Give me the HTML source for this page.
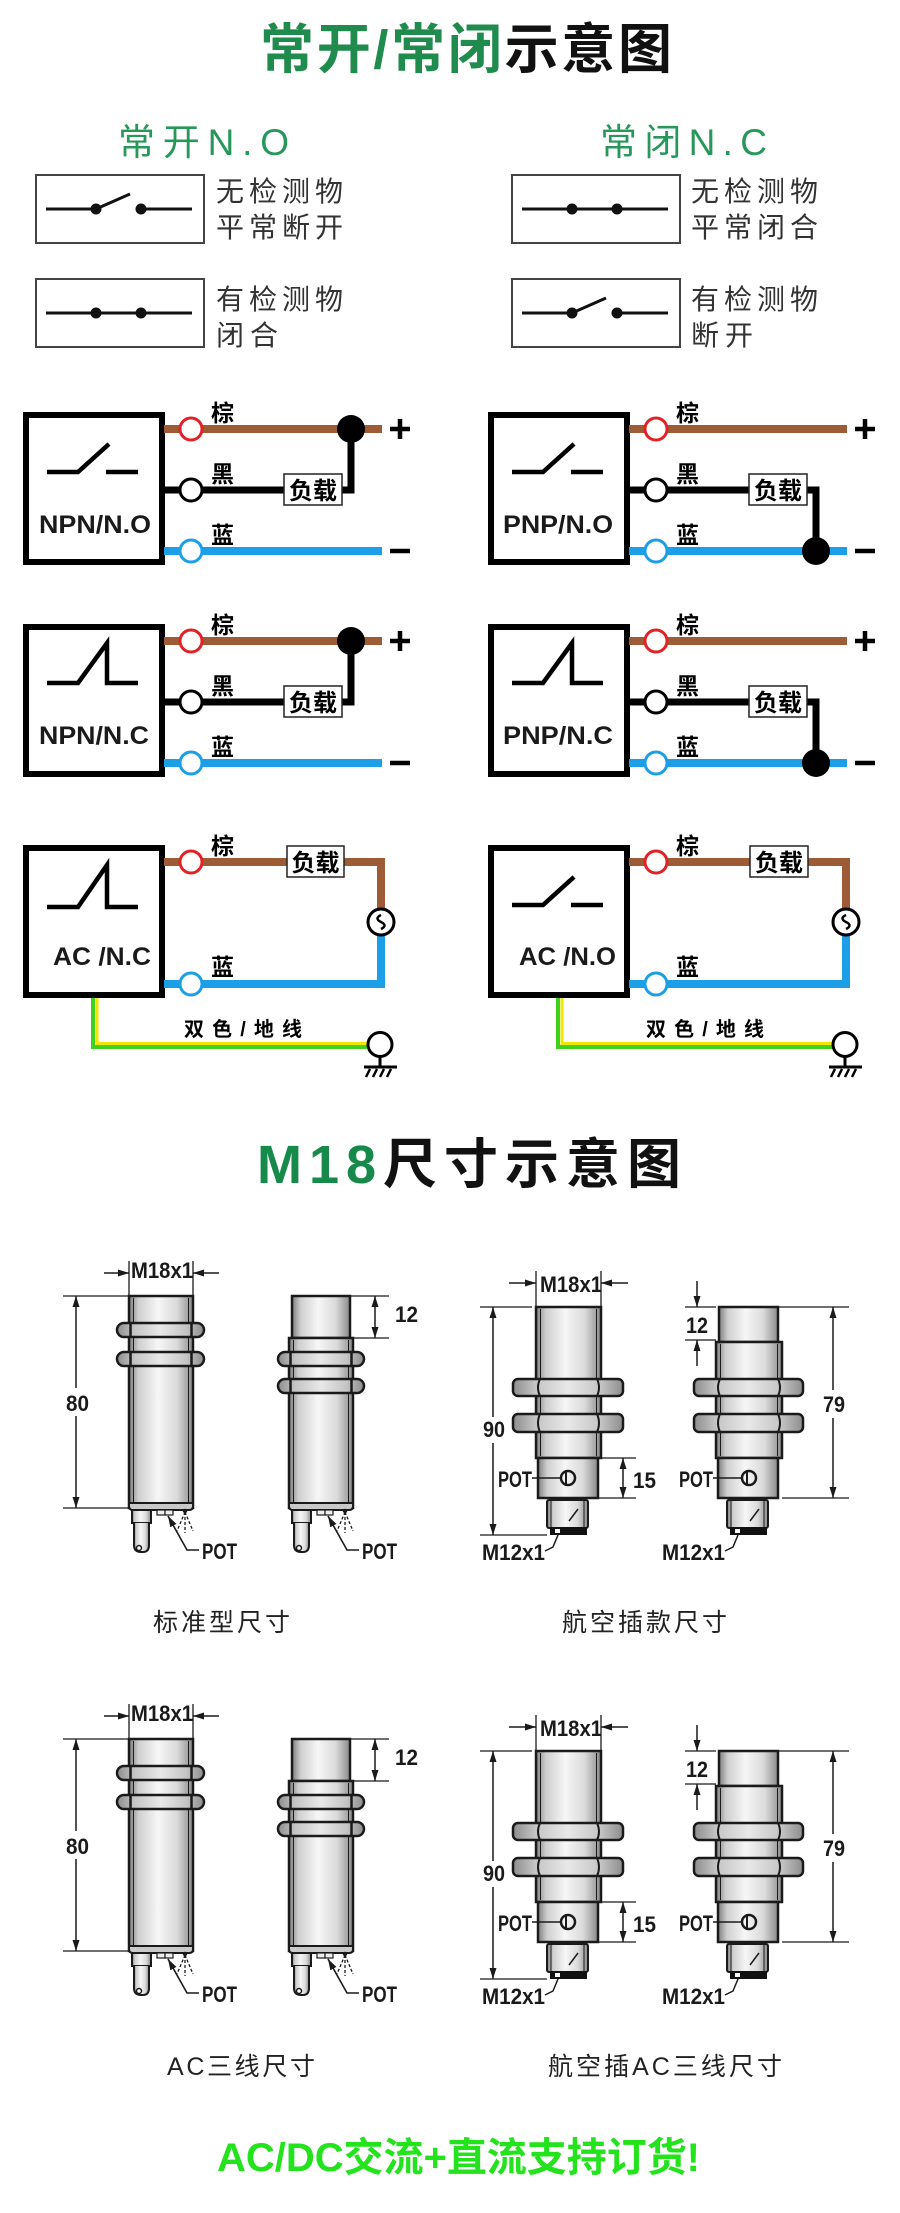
<!DOCTYPE html>
<html><head><meta charset="utf-8">
<style>
html,body{margin:0;padding:0;background:#fff;}
svg{display:block;}
.cjk{font-family:"Liberation Sans","Noto Sans CJK SC",sans-serif;}
.lat{font-family:"Liberation Sans",sans-serif;font-weight:700;fill:#1a1a1a;}
</style></head><body>
<svg width="900" height="2213" viewBox="0 0 900 2213" xmlns="http://www.w3.org/2000/svg">
<defs>
 <linearGradient id="gb" x1="0" x2="1" y1="0" y2="0">
  <stop offset="0" stop-color="#7e7e7e"/><stop offset="0.15" stop-color="#cfcfcf"/><stop offset="0.45" stop-color="#f6f6f6"/><stop offset="0.75" stop-color="#dadada"/><stop offset="1" stop-color="#8a8a8a"/>
 </linearGradient>
 <linearGradient id="gn" x1="0" x2="1" y1="0" y2="0">
  <stop offset="0" stop-color="#8d8d8d"/><stop offset="0.2" stop-color="#c4c4c4"/><stop offset="0.5" stop-color="#e8e8e8"/><stop offset="0.8" stop-color="#c4c4c4"/><stop offset="1" stop-color="#8d8d8d"/>
 </linearGradient>
 <marker id="ah" viewBox="0 0 11 7" refX="11" refY="3.5" markerWidth="11" markerHeight="7" markerUnits="userSpaceOnUse" orient="auto-start-reverse"><path d="M0 0L11 3.5L0 7z" fill="#1a1a1a"/></marker>
</defs>

<!-- ===== Title ===== -->
<text x="260" y="68" font-size="54" font-weight="700" class="cjk" textLength="412" lengthAdjust="spacing"><tspan fill="#1f8b4c">常开/常闭</tspan><tspan fill="#111">示意图</tspan></text>

<text x="118" y="155" font-size="37" class="cjk" fill="#27985a" textLength="171" lengthAdjust="spacing">常开N.O</text>
<text x="600" y="155" font-size="37" class="cjk" fill="#27985a" textLength="167" lengthAdjust="spacing">常闭N.C</text>

<!-- small boxes -->
<g fill="#fff" stroke="#444" stroke-width="2">
 <rect x="36" y="175" width="168" height="68"/>
 <rect x="36" y="279" width="168" height="68"/>
 <rect x="512" y="175" width="168" height="68"/>
 <rect x="512" y="279" width="168" height="68"/>
</g>
<g stroke="#111" stroke-width="3" fill="none">
 <path d="M46 209H96M141 209H192M96 209L130 194"/>
 <path d="M46 313H192"/>
 <path d="M522 209H668"/>
 <path d="M522 313H572M617 313H668M572 313L606 298"/>
</g>
<g fill="#111">
 <circle cx="96" cy="209" r="5.5"/><circle cx="141" cy="209" r="5.5"/>
 <circle cx="96" cy="313" r="5.5"/><circle cx="141" cy="313" r="5.5"/>
 <circle cx="572" cy="209" r="5.5"/><circle cx="617" cy="209" r="5.5"/>
 <circle cx="572" cy="313" r="5.5"/><circle cx="617" cy="313" r="5.5"/>
</g>
<g class="cjk" font-size="28" fill="#333">
 <text x="216" y="201" textLength="127" lengthAdjust="spacing">无检测物</text>
 <text x="216" y="237" textLength="127" lengthAdjust="spacing">平常断开</text>
 <text x="216" y="309" textLength="127" lengthAdjust="spacing">有检测物</text>
 <text x="216" y="345" textLength="62" lengthAdjust="spacing">闭合</text>
 <text x="691" y="201" textLength="127" lengthAdjust="spacing">无检测物</text>
 <text x="691" y="237" textLength="127" lengthAdjust="spacing">平常闭合</text>
 <text x="691" y="309" textLength="127" lengthAdjust="spacing">有检测物</text>
 <text x="691" y="345" textLength="62" lengthAdjust="spacing">断开</text>
</g>

<!-- ===== Wiring panels ===== -->
<!-- Row1 Left NPN/N.O -->
<g>
 <rect x="26" y="415" width="136" height="147" fill="#fff" stroke="#000" stroke-width="6"/>
 <line x1="164" y1="429" x2="382" y2="429" stroke="#9d5b36" stroke-width="8"/>
 <line x1="164" y1="551" x2="382" y2="551" stroke="#1d9fe8" stroke-width="8"/>
 <path d="M164 490H351V429" fill="none" stroke="#000" stroke-width="7"/>
 <circle cx="351" cy="429" r="14" fill="#000"/>
 <rect x="284" y="474" width="58" height="31" fill="#fff" stroke="#222" stroke-width="1.5"/>
 <text x="313" y="499" text-anchor="middle" font-size="24" font-weight="700" class="cjk">负载</text>
 <circle cx="191" cy="429" r="11" fill="#fff" stroke="#e32228" stroke-width="3"/>
 <circle cx="191" cy="490" r="11" fill="#fff" stroke="#000" stroke-width="3"/>
 <circle cx="191" cy="551" r="11" fill="#fff" stroke="#1d9fe8" stroke-width="3"/>
 <text x="211" y="421" font-size="23" font-weight="700" class="cjk">棕</text>
 <text x="211" y="482" font-size="23" font-weight="700" class="cjk">黑</text>
 <text x="211" y="543" font-size="23" font-weight="700" class="cjk">蓝</text>
 <path d="M390 429H410M400 419V439M390 551H410" stroke="#000" stroke-width="4.5"/>
 <path d="M47 472H78L109 444M106 472H138" fill="none" stroke="#000" stroke-width="4.5"/>
 <text x="39" y="533" font-size="25" class="lat" fill="#111" textLength="112" lengthAdjust="spacingAndGlyphs">NPN/N.O</text>
</g>
<!-- Row1 Right PNP/N.O -->
<g transform="translate(465,0)">
 <rect x="26" y="415" width="136" height="147" fill="#fff" stroke="#000" stroke-width="6"/>
 <line x1="164" y1="429" x2="382" y2="429" stroke="#9d5b36" stroke-width="8"/>
 <line x1="164" y1="551" x2="382" y2="551" stroke="#1d9fe8" stroke-width="8"/>
 <path d="M164 490H284M342 490H351V551" fill="none" stroke="#000" stroke-width="7"/>
 <circle cx="351" cy="551" r="14" fill="#000"/>
 <rect x="284" y="474" width="58" height="31" fill="#fff" stroke="#222" stroke-width="1.5"/>
 <text x="313" y="499" text-anchor="middle" font-size="24" font-weight="700" class="cjk">负载</text>
 <circle cx="191" cy="429" r="11" fill="#fff" stroke="#e32228" stroke-width="3"/>
 <circle cx="191" cy="490" r="11" fill="#fff" stroke="#000" stroke-width="3"/>
 <circle cx="191" cy="551" r="11" fill="#fff" stroke="#1d9fe8" stroke-width="3"/>
 <text x="211" y="421" font-size="23" font-weight="700" class="cjk">棕</text>
 <text x="211" y="482" font-size="23" font-weight="700" class="cjk">黑</text>
 <text x="211" y="543" font-size="23" font-weight="700" class="cjk">蓝</text>
 <path d="M390 429H410M400 419V439M390 551H410" stroke="#000" stroke-width="4.5"/>
 <path d="M47 472H78L109 444M106 472H138" fill="none" stroke="#000" stroke-width="4.5"/>
 <text x="38" y="533" font-size="25" class="lat" fill="#111" textLength="110" lengthAdjust="spacingAndGlyphs">PNP/N.O</text>
</g>
<!-- Row2 Left NPN/N.C -->
<g transform="translate(0,212)">
 <rect x="26" y="415" width="136" height="147" fill="#fff" stroke="#000" stroke-width="6"/>
 <line x1="164" y1="429" x2="382" y2="429" stroke="#9d5b36" stroke-width="8"/>
 <line x1="164" y1="551" x2="382" y2="551" stroke="#1d9fe8" stroke-width="8"/>
 <path d="M164 490H351V429" fill="none" stroke="#000" stroke-width="7"/>
 <circle cx="351" cy="429" r="14" fill="#000"/>
 <rect x="284" y="474" width="58" height="31" fill="#fff" stroke="#222" stroke-width="1.5"/>
 <text x="313" y="499" text-anchor="middle" font-size="24" font-weight="700" class="cjk">负载</text>
 <circle cx="191" cy="429" r="11" fill="#fff" stroke="#e32228" stroke-width="3"/>
 <circle cx="191" cy="490" r="11" fill="#fff" stroke="#000" stroke-width="3"/>
 <circle cx="191" cy="551" r="11" fill="#fff" stroke="#1d9fe8" stroke-width="3"/>
 <text x="211" y="421" font-size="23" font-weight="700" class="cjk">棕</text>
 <text x="211" y="482" font-size="23" font-weight="700" class="cjk">黑</text>
 <text x="211" y="543" font-size="23" font-weight="700" class="cjk">蓝</text>
 <path d="M390 429H410M400 419V439M390 551H410" stroke="#000" stroke-width="4.5"/>
 <path d="M47 471H78L107 431V471H138" fill="none" stroke="#000" stroke-width="4.5"/>
 <text x="39" y="532" font-size="25" class="lat" fill="#111" textLength="110" lengthAdjust="spacingAndGlyphs">NPN/N.C</text>
</g>
<!-- Row2 Right PNP/N.C -->
<g transform="translate(465,212)">
 <rect x="26" y="415" width="136" height="147" fill="#fff" stroke="#000" stroke-width="6"/>
 <line x1="164" y1="429" x2="382" y2="429" stroke="#9d5b36" stroke-width="8"/>
 <line x1="164" y1="551" x2="382" y2="551" stroke="#1d9fe8" stroke-width="8"/>
 <path d="M164 490H284M342 490H351V551" fill="none" stroke="#000" stroke-width="7"/>
 <circle cx="351" cy="551" r="14" fill="#000"/>
 <rect x="284" y="474" width="58" height="31" fill="#fff" stroke="#222" stroke-width="1.5"/>
 <text x="313" y="499" text-anchor="middle" font-size="24" font-weight="700" class="cjk">负载</text>
 <circle cx="191" cy="429" r="11" fill="#fff" stroke="#e32228" stroke-width="3"/>
 <circle cx="191" cy="490" r="11" fill="#fff" stroke="#000" stroke-width="3"/>
 <circle cx="191" cy="551" r="11" fill="#fff" stroke="#1d9fe8" stroke-width="3"/>
 <text x="211" y="421" font-size="23" font-weight="700" class="cjk">棕</text>
 <text x="211" y="482" font-size="23" font-weight="700" class="cjk">黑</text>
 <text x="211" y="543" font-size="23" font-weight="700" class="cjk">蓝</text>
 <path d="M390 429H410M400 419V439M390 551H410" stroke="#000" stroke-width="4.5"/>
 <path d="M47 471H78L107 431V471H138" fill="none" stroke="#000" stroke-width="4.5"/>
 <text x="38" y="532" font-size="25" class="lat" fill="#111" textLength="110" lengthAdjust="spacingAndGlyphs">PNP/N.C</text>
</g>
<!-- Row3 Left AC/N.C -->
<g transform="translate(0,433)">
 <path d="M93 565V614H368" fill="none" stroke="#3fd11d" stroke-width="4"/>
 <path d="M97 565V610.5H368" fill="none" stroke="#f2e600" stroke-width="3"/>
 <rect x="26" y="415" width="136" height="147" fill="#fff" stroke="#000" stroke-width="6"/>
 <path d="M164 429H381V476" fill="none" stroke="#9d5b36" stroke-width="8"/>
 <path d="M381 502V551H164" fill="none" stroke="#1d9fe8" stroke-width="8"/>
 <circle cx="381" cy="489" r="13" fill="#fff" stroke="#000" stroke-width="3"/>
 <path d="M381 482Q374 485.5 381 489Q388 492.5 381 496" fill="none" stroke="#000" stroke-width="2.5"/>
 <rect x="287" y="413" width="57" height="31" fill="#fff" stroke="#222" stroke-width="1.5"/>
 <text x="315.5" y="438" text-anchor="middle" font-size="24" font-weight="700" class="cjk">负载</text>
 <circle cx="191" cy="429" r="11" fill="#fff" stroke="#e32228" stroke-width="3"/>
 <circle cx="191" cy="551" r="11" fill="#fff" stroke="#1d9fe8" stroke-width="3"/>
 <text x="211" y="421" font-size="23" font-weight="700" class="cjk">棕</text>
 <text x="211" y="542" font-size="23" font-weight="700" class="cjk">蓝</text>
 <path d="M47 474H78L107 432V474H138" fill="none" stroke="#000" stroke-width="4.5"/>
 <text x="53" y="532" font-size="25" class="lat" fill="#111" textLength="98" lengthAdjust="spacingAndGlyphs">AC /N.C</text>
 <circle cx="380" cy="611.5" r="12" fill="#fff" stroke="#000" stroke-width="3"/>
 <path d="M380 624V634M364 634H397" stroke="#000" stroke-width="3" fill="none"/>
 <path d="M370 636L366 644M377 636L373 644M384 636L380 644M391 636L387 644" stroke="#000" stroke-width="2.5"/>
 <text x="184" y="603" font-size="20" font-weight="700" class="cjk" textLength="118" lengthAdjust="spacing">双色/地线</text>
</g>
<!-- Row3 Right AC/N.O -->
<g transform="translate(465,433)">
 <path d="M93 565V614H368" fill="none" stroke="#3fd11d" stroke-width="4"/>
 <path d="M97 565V610.5H368" fill="none" stroke="#f2e600" stroke-width="3"/>
 <rect x="26" y="415" width="136" height="147" fill="#fff" stroke="#000" stroke-width="6"/>
 <path d="M164 429H381V476" fill="none" stroke="#9d5b36" stroke-width="8"/>
 <path d="M381 502V551H164" fill="none" stroke="#1d9fe8" stroke-width="8"/>
 <circle cx="381" cy="489" r="13" fill="#fff" stroke="#000" stroke-width="3"/>
 <path d="M381 482Q374 485.5 381 489Q388 492.5 381 496" fill="none" stroke="#000" stroke-width="2.5"/>
 <rect x="285" y="413" width="58" height="31" fill="#fff" stroke="#222" stroke-width="1.5"/>
 <text x="314" y="438" text-anchor="middle" font-size="24" font-weight="700" class="cjk">负载</text>
 <circle cx="191" cy="429" r="11" fill="#fff" stroke="#e32228" stroke-width="3"/>
 <circle cx="191" cy="551" r="11" fill="#fff" stroke="#1d9fe8" stroke-width="3"/>
 <text x="211" y="421" font-size="23" font-weight="700" class="cjk">棕</text>
 <text x="211" y="542" font-size="23" font-weight="700" class="cjk">蓝</text>
 <path d="M47 472H78L109 444M106 472H138" fill="none" stroke="#000" stroke-width="4.5"/>
 <text x="54" y="532" font-size="25" class="lat" fill="#111" textLength="97" lengthAdjust="spacingAndGlyphs">AC /N.O</text>
 <circle cx="380" cy="611.5" r="12" fill="#fff" stroke="#000" stroke-width="3"/>
 <path d="M380 624V634M364 634H397" stroke="#000" stroke-width="3" fill="none"/>
 <path d="M370 636L366 644M377 636L373 644M384 636L380 644M391 636L387 644" stroke="#000" stroke-width="2.5"/>
 <text x="181" y="603" font-size="20" font-weight="700" class="cjk" textLength="118" lengthAdjust="spacing">双色/地线</text>
</g>

<!-- ===== M18 title ===== -->
<text x="257" y="1183" font-size="54" font-weight="700" class="cjk" textLength="424" lengthAdjust="spacing"><tspan fill="#178a4b">M18</tspan><tspan fill="#111">尺寸示意图</tspan></text>

<!-- ===== Standard sensor A ===== -->
<g id="sa" stroke="#1a1a1a" fill="none">
 <path d="M129 1261V1296M193 1261V1296M63 1296H129M63 1508H129" stroke-width="1.3"/>
 <line x1="104" y1="1273" x2="129" y2="1273" stroke-width="1.5" marker-end="url(#ah)"/>
 <line x1="219" y1="1273" x2="193" y2="1273" stroke-width="1.5" marker-end="url(#ah)"/>
 <line x1="76" y1="1296" x2="76" y2="1508" stroke-width="1.5" marker-start="url(#ah)" marker-end="url(#ah)"/>
 <rect x="63" y="1388" width="28" height="28" fill="#fff" stroke="none"/>
 <rect x="129" y="1296" width="64" height="212" fill="url(#gb)" stroke-width="2.5"/>
 <path d="M133.5 1298V1503M188.5 1298V1503" stroke-width="1"/>
 <rect x="117" y="1323" width="87" height="14" rx="7" fill="url(#gn)" stroke-width="2.5"/>
 <rect x="117" y="1352" width="87" height="14" rx="7" fill="url(#gn)" stroke-width="2.5"/>
 <path d="M130.5 1323V1337M191.5 1323V1337M130.5 1352V1366M191.5 1352V1366" stroke-width="2.5"/>
 <path d="M129 1503H193V1506Q193 1510 189 1510H133Q129 1510 129 1506Z" fill="#c9c9c9" stroke-width="2"/>
 <rect x="132" y="1510" width="19" height="13" fill="url(#gb)" stroke-width="2"/>
 <path d="M134 1523V1545Q134 1552 141 1552H143Q149 1552 149 1545V1523" fill="url(#gb)" stroke-width="2"/>
 <circle cx="139" cy="1548" r="2.5" stroke-width="1.5" fill="#fff"/>
 <rect x="157" y="1510" width="8" height="5" fill="#eee" stroke-width="1.2"/>
 <rect x="165" y="1510" width="8" height="5" fill="#eee" stroke-width="1.2"/>
 <polyline points="168,1516 187,1550 199,1550" stroke-width="1.6" marker-start="url(#ah)"/>
 <path d="M185 1512L177 1531M185 1512L185 1533M185 1512L193 1531" stroke-width="1.3" stroke-dasharray="3 2"/>
 <circle cx="185" cy="1511" r="2.2" fill="#1a1a1a" stroke="none"/>
</g>
<!-- ===== Standard sensor B ===== -->
<g id="sb" stroke="#1a1a1a" fill="none">
 <path d="M350 1296H389M353 1338H389" stroke-width="1.3"/>
 <line x1="375" y1="1296" x2="375" y2="1338" stroke-width="1.5" marker-start="url(#ah)" marker-end="url(#ah)"/>
 <rect x="292" y="1296" width="58" height="42" fill="url(#gb)" stroke-width="2.5"/>
 <rect x="289" y="1338" width="64" height="170" fill="url(#gb)" stroke-width="2.5"/>
 <path d="M293.5 1340V1503M348.5 1340V1503" stroke-width="1"/>
 <rect x="278" y="1352" width="86" height="14" rx="7" fill="url(#gn)" stroke-width="2.5"/>
 <rect x="278" y="1379" width="86" height="14" rx="7" fill="url(#gn)" stroke-width="2.5"/>
 <path d="M290.5 1352V1366M351.5 1352V1366M290.5 1379V1393M351.5 1379V1393" stroke-width="2.5"/>
 <path d="M289 1503H353V1506Q353 1510 349 1510H293Q289 1510 289 1506Z" fill="#c9c9c9" stroke-width="2"/>
 <rect x="292" y="1510" width="19" height="13" fill="url(#gb)" stroke-width="2"/>
 <path d="M294 1523V1545Q294 1552 301 1552H303Q309 1552 309 1545V1523" fill="url(#gb)" stroke-width="2"/>
 <circle cx="299" cy="1548" r="2.5" stroke-width="1.5" fill="#fff"/>
 <rect x="317" y="1510" width="8" height="5" fill="#eee" stroke-width="1.2"/>
 <rect x="325" y="1510" width="8" height="5" fill="#eee" stroke-width="1.2"/>
 <polyline points="328,1516 347,1550 359,1550" stroke-width="1.6" marker-start="url(#ah)"/>
 <path d="M345 1512L337 1531M345 1512L345 1533M345 1512L353 1531" stroke-width="1.3" stroke-dasharray="3 2"/>
 <circle cx="345" cy="1511" r="2.2" fill="#1a1a1a" stroke="none"/>
</g>
<!-- ===== Aviation sensor C ===== -->
<g id="ac" stroke="#1a1a1a" fill="none">
 <path d="M536 1271V1307M601 1271V1307M480 1307H532M480 1535H547M598 1458H636M598 1498H636" stroke-width="1.3"/>
 <line x1="509" y1="1283" x2="536" y2="1283" stroke-width="1.5" marker-end="url(#ah)"/>
 <line x1="628" y1="1283" x2="601" y2="1283" stroke-width="1.5" marker-end="url(#ah)"/>
 <line x1="493" y1="1307" x2="493" y2="1535" stroke-width="1.5" marker-start="url(#ah)" marker-end="url(#ah)"/>
 <rect x="480" y="1417" width="28" height="26" fill="#fff" stroke="none"/>
 <line x1="623" y1="1458" x2="623" y2="1498" stroke-width="1.5" marker-start="url(#ah)" marker-end="url(#ah)"/>
 <rect x="536" y="1307" width="65" height="151" fill="url(#gb)" stroke-width="2.5"/>
 <path d="M540.5 1309V1456M596.5 1309V1456" stroke-width="1"/>
 <rect x="513" y="1379" width="110" height="17" rx="5" fill="url(#gn)" stroke-width="2.5"/>
 <rect x="513" y="1414" width="110" height="18" rx="5" fill="url(#gn)" stroke-width="2.5"/>
 <path d="M540 1379Q536 1387.5 540 1396M597 1379Q601 1387.5 597 1396M540 1414Q536 1423 540 1432M597 1414Q601 1423 597 1432" stroke-width="2"/>
 <rect x="538" y="1458" width="60" height="40" fill="url(#gb)" stroke-width="2.5"/>
 <path d="M532 1478H561" stroke-width="1.5"/>
 <circle cx="568" cy="1478" r="7" fill="none" stroke-width="2.5"/>
 <path d="M566 1470V1486" stroke-width="2"/>
 <rect x="547" y="1500" width="41" height="28" rx="2" fill="url(#gb)" stroke-width="2"/>
 <path d="M551 1501V1527M584 1501V1527" stroke-width="1"/>
 <rect x="550" y="1527" width="37" height="8" fill="#111" stroke="none"/>
 <rect x="555" y="1529" width="5" height="4" fill="#fff" stroke="none"/>
 <path d="M569 1521L578 1509" stroke-width="1.5"/>
 <polyline points="545,1551 553,1547 558,1535" stroke-width="1.5"/>
</g>
<!-- ===== Aviation sensor D ===== -->
<g id="ad" stroke="#1a1a1a" fill="none">
 <path d="M685 1307H716M685 1340H716M778 1307H849M782 1498H849" stroke-width="1.3"/>
 <line x1="697" y1="1281" x2="697" y2="1307" stroke-width="1.5" marker-end="url(#ah)"/>
 <line x1="697" y1="1366" x2="697" y2="1340" stroke-width="1.5" marker-end="url(#ah)"/>
 <line x1="833" y1="1307" x2="833" y2="1498" stroke-width="1.5" marker-start="url(#ah)" marker-end="url(#ah)"/>
 <rect x="820" y="1390" width="28" height="28" fill="#fff" stroke="none"/>
 <rect x="719" y="1307" width="59" height="35" fill="url(#gb)" stroke-width="2.5"/>
 <rect x="716" y="1342" width="66" height="116" fill="url(#gb)" stroke-width="2.5"/>
 <path d="M720.5 1344V1456M777.5 1344V1456" stroke-width="1"/>
 <rect x="694" y="1379" width="109" height="17" rx="5" fill="url(#gn)" stroke-width="2.5"/>
 <rect x="694" y="1414" width="109" height="18" rx="5" fill="url(#gn)" stroke-width="2.5"/>
 <path d="M720 1379Q716 1387.5 720 1396M778 1379Q782 1387.5 778 1396M720 1414Q716 1423 720 1432M778 1414Q782 1423 778 1432" stroke-width="2"/>
 <rect x="718" y="1458" width="60" height="40" fill="url(#gb)" stroke-width="2.5"/>
 <path d="M713 1478H742" stroke-width="1.5"/>
 <circle cx="749" cy="1478" r="7" fill="none" stroke-width="2.5"/>
 <path d="M747 1470V1486" stroke-width="2"/>
 <rect x="727" y="1500" width="41" height="28" rx="2" fill="url(#gb)" stroke-width="2"/>
 <path d="M731 1501V1527M764 1501V1527" stroke-width="1"/>
 <rect x="730" y="1527" width="37" height="8" fill="#111" stroke="none"/>
 <rect x="735" y="1529" width="5" height="4" fill="#fff" stroke="none"/>
 <path d="M750 1521L759 1509" stroke-width="1.5"/>
 <polyline points="725,1551 733,1547 738,1535" stroke-width="1.5"/>
</g>

<!-- lower copies -->
<use href="#sa" y="443"/>
<use href="#sb" y="443"/>
<use href="#ac" y="444"/>
<use href="#ad" y="444"/>

<!-- dimension labels (upper) -->
<g class="lat" font-size="22">
 <text x="131" y="1278" textLength="62" lengthAdjust="spacingAndGlyphs">M18x1</text>
 <text x="66" y="1411" textLength="23" lengthAdjust="spacingAndGlyphs">80</text>
 <text x="202" y="1559" font-size="22" textLength="35" lengthAdjust="spacingAndGlyphs">POT</text>
 <text x="395" y="1322" textLength="23" lengthAdjust="spacingAndGlyphs">12</text>
 <text x="362" y="1559" textLength="35" lengthAdjust="spacingAndGlyphs">POT</text>
 <text x="540" y="1292" textLength="62" lengthAdjust="spacingAndGlyphs">M18x1</text>
 <text x="483" y="1437" textLength="22" lengthAdjust="spacingAndGlyphs">90</text>
 <text x="498" y="1487" textLength="34" lengthAdjust="spacingAndGlyphs">POT</text>
 <text x="633" y="1488" textLength="23" lengthAdjust="spacingAndGlyphs">15</text>
 <text x="482" y="1560" textLength="63" lengthAdjust="spacingAndGlyphs">M12x1</text>
 <text x="679" y="1487" textLength="34" lengthAdjust="spacingAndGlyphs">POT</text>
 <text x="686" y="1333" textLength="22" lengthAdjust="spacingAndGlyphs">12</text>
 <text x="823" y="1412" textLength="22" lengthAdjust="spacingAndGlyphs">79</text>
 <text x="662" y="1560" textLength="63" lengthAdjust="spacingAndGlyphs">M12x1</text>
</g>
<!-- dimension labels (lower) -->
<g class="lat" font-size="22">
 <text x="131" y="1721" textLength="62" lengthAdjust="spacingAndGlyphs">M18x1</text>
 <text x="66" y="1854" textLength="23" lengthAdjust="spacingAndGlyphs">80</text>
 <text x="202" y="2002" textLength="35" lengthAdjust="spacingAndGlyphs">POT</text>
 <text x="395" y="1765" textLength="23" lengthAdjust="spacingAndGlyphs">12</text>
 <text x="362" y="2002" textLength="35" lengthAdjust="spacingAndGlyphs">POT</text>
 <text x="540" y="1736" textLength="62" lengthAdjust="spacingAndGlyphs">M18x1</text>
 <text x="483" y="1881" textLength="22" lengthAdjust="spacingAndGlyphs">90</text>
 <text x="498" y="1931" textLength="34" lengthAdjust="spacingAndGlyphs">POT</text>
 <text x="633" y="1932" textLength="23" lengthAdjust="spacingAndGlyphs">15</text>
 <text x="482" y="2004" textLength="63" lengthAdjust="spacingAndGlyphs">M12x1</text>
 <text x="679" y="1931" textLength="34" lengthAdjust="spacingAndGlyphs">POT</text>
 <text x="686" y="1777" textLength="22" lengthAdjust="spacingAndGlyphs">12</text>
 <text x="823" y="1856" textLength="22" lengthAdjust="spacingAndGlyphs">79</text>
 <text x="662" y="2004" textLength="63" lengthAdjust="spacingAndGlyphs">M12x1</text>
</g>

<!-- captions -->
<g class="cjk" font-size="25" fill="#222">
 <text x="153" y="1631" textLength="137" lengthAdjust="spacing">标准型尺寸</text>
 <text x="562" y="1631" textLength="165" lengthAdjust="spacing">航空插款尺寸</text>
 <text x="167" y="2075" textLength="148" lengthAdjust="spacing">AC三线尺寸</text>
 <text x="548" y="2075" textLength="234" lengthAdjust="spacing">航空插AC三线尺寸</text>
</g>

<!-- bottom slogan -->
<text x="217" y="2171" font-size="40" font-weight="700" class="cjk" fill="#22e31c" textLength="483" lengthAdjust="spacing">AC/DC交流+直流支持订货!</text>
</svg>
</body></html>
